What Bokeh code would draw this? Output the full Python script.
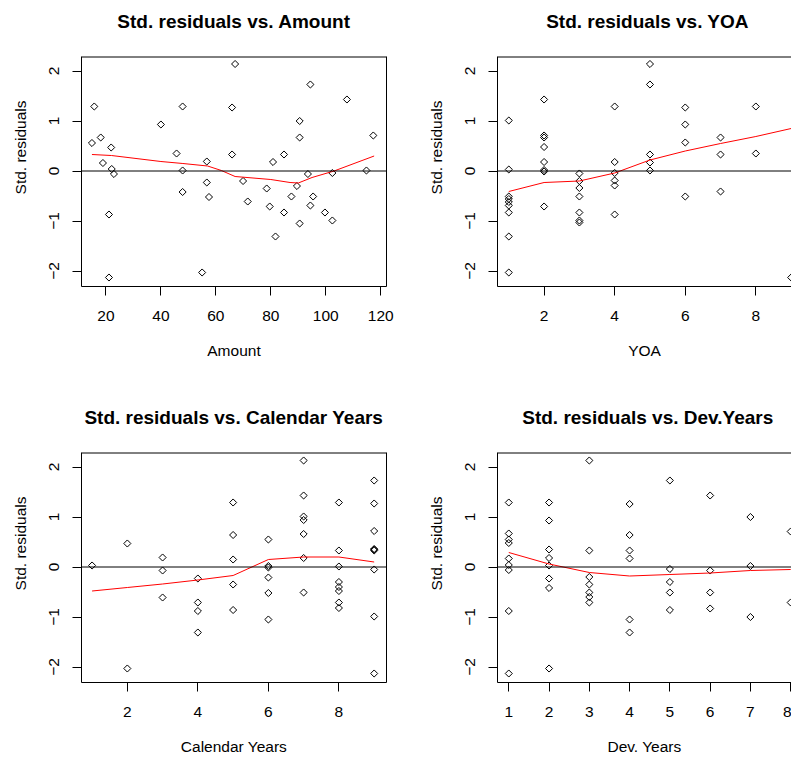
import numpy as np
from bokeh.plotting import figure
from bokeh.layouts import column, row
from bokeh.models import FixedTicker, Span, Label, LinearAxis
from bokeh.embed import file_html
from bokeh.resources import INLINE

# ---------------- data ----------------
# Panel 1: Std. residuals vs. Amount
amount = [14.9, 15.75, 18.1, 18.9, 21.9, 22.1, 22.9, 21.1, 21.1,
          40.0, 45.7, 47.9, 47.9, 47.9, 55.0, 56.7, 56.7, 57.5,
          65.9, 67.0, 65.9, 69.9, 71.6, 78.5, 79.6, 80.8, 81.7,
          84.8, 84.8, 87.5, 89.5, 90.5, 90.5, 90.5, 93.5, 94.4,
          94.4, 95.4, 99.7, 102.4, 102.4, 107.7, 114.8, 117.3]
res_amount = [0.56, 1.29, 0.67, 0.16, 0.47, 0.04, -0.06, -0.87, -2.13,
              0.93, 0.35, 1.29, 0.01, -0.42, -2.03, 0.19, -0.23, -0.52,
              1.27, 2.14, 0.33, -0.20, -0.61, -0.35, -0.71, 0.18, -1.31,
              0.33, -0.83, -0.51, -0.30, 1.00, 0.67, -1.05, -0.06, 1.73,
              -0.69, -0.51, -0.83, -0.04, -0.99, 1.43, 0.01, 0.71]
amount_fit_x = [14.9, 22, 40, 48, 57, 62, 67, 80, 87, 90, 95, 103, 117.6]
amount_fit_y = [0.33, 0.31, 0.19, 0.15, 0.10, 0.01, -0.11, -0.17, -0.23, -0.24, -0.13, 0.0, 0.30]

# Panel 2: Std. residuals vs. YOA
yoa = [1, 1, 1, 1, 1, 1, 1, 1, 1,
       2, 2, 2, 2, 2, 2, 2, 2,
       3, 3, 3, 3, 3, 3, 3,
       4, 4, 4, 4, 4, 4,
       5, 5, 5, 5, 5,
       6, 6, 6, 6,
       7, 7, 7,
       8, 8,
       9]
res_yoa = [1.01, 0.03, -0.51, -0.56, -0.62, -0.69, -0.83, -1.31, -2.03,
           1.43, 0.71, 0.67, 0.48, 0.18, 0.02, -0.01, -0.71,
           -0.05, -0.20, -0.34, -0.51, -0.83, -0.99, -1.03,
           1.29, 0.18, -0.04, -0.19, -0.29, -0.87,
           2.14, 1.73, 0.33, 0.17, 0.01,
           1.27, 0.93, 0.57, -0.51,
           0.67, 0.33, -0.41,
           1.29, 0.35,
           -2.13]
yoa_fit_x = [1, 2, 3, 4, 5, 6, 7, 8, 9]
yoa_fit_y = [-0.41, -0.23, -0.20, -0.04, 0.22, 0.40, 0.55, 0.69, 0.85]

# Panel 3: Std. residuals vs. Calendar Years
cal = [1,
       2, 2,
       3, 3, 3,
       4, 4, 4, 4,
       5, 5, 5, 5, 5,
       6, 6, 6, 6, 6, 6,
       7, 7, 7, 7, 7, 7, 7,
       8, 8, 8, 8, 8, 8, 8, 8,
       9, 9, 9, 9, 9, 9, 9, 9, 9]
res_cal = [0.03,
           0.47, -2.03,
           0.19, -0.07, -0.61,
           -0.23, -0.71, -0.88, -1.31,
           1.29, 0.64, 0.15, -0.35, -0.86,
           0.55, 0.02, -0.01, -0.21, -0.52, -1.05,
           2.13, 1.43, 1.01, 0.94, 0.66, 0.18, -0.51,
           1.29, 0.33, 0.01, -0.30, -0.40, -0.48, -0.71, -0.82,
           1.73, 1.27, 0.72, 0.36, 0.35, 0.33, -0.05, -0.99, -2.13]
cal_fit_x = [1, 2, 3, 4, 5, 6, 7, 8, 9]
cal_fit_y = [-0.48, -0.41, -0.34, -0.26, -0.17, 0.15, 0.20, 0.20, 0.10]

# Panel 4: Std. residuals vs. Dev.Years
dev = [1, 1, 1, 1, 1, 1, 1, 1, 1,
       2, 2, 2, 2, 2, 2, 2, 2,
       3, 3, 3, 3, 3, 3, 3,
       4, 4, 4, 4, 4, 4,
       5, 5, 5, 5, 5,
       6, 6, 6, 6,
       7, 7, 7,
       8, 8]
res_dev = [1.29, 0.67, 0.55, 0.48, 0.17, 0.04, -0.06, -0.88, -2.13,
           1.29, 0.93, 0.35, 0.18, 0.03, -0.23, -0.42, -2.03,
           2.13, 0.33, -0.20, -0.35, -0.51, -0.60, -0.71,
           1.26, 0.64, 0.33, 0.17, -1.05, -1.31,
           1.73, -0.04, -0.30, -0.51, -0.86,
           1.43, -0.07, -0.51, -0.83,
           1.00, 0.02, -1.00,
           0.71, -0.71]
dev_fit_x = [1, 2, 3, 4, 5, 6, 7, 8]
dev_fit_y = [0.29, 0.06, -0.11, -0.18, -0.15, -0.12, -0.07, -0.05]

y_ticks = [-2, -1, 0, 1, 2]
amount_ticks = [20, 40, 60, 80, 100, 120]
yoa_ticks = [2, 4, 6, 8]
cal_ticks = [2, 4, 6, 8]
dev_ticks = [1, 2, 3, 4, 5, 6, 7, 8]

FONT = "Liberation Sans"
TEXT_SIZE = "15.5px"
Y_BOX = (-2.31, 2.29)                 # the drawn plot box (R usr limits)
Y_VIEW = (Y_BOX[0], Y_BOX[1] + 0.96)  # view extended upward to hold the title
TITLE_Y = Y_BOX[1] + 0.70


def panel(title, xlabel, xs, ys, fx, fy, xr, xcenter, xticks, width, height,
          bl, br, bt, bb, clipped):
    p = figure(width=width, height=height, x_range=xr, y_range=Y_VIEW,
               title=None, output_backend="svg", toolbar_location=None, tools="",
               min_border_left=bl, min_border_right=br,
               min_border_top=bt, min_border_bottom=bb,
               background_fill_color="white", border_fill_color="white")
    p.xgrid.visible = False
    p.ygrid.visible = False
    p.outline_line_color = None

    p.add_layout(Label(x=xcenter, y=TITLE_Y, text=title, text_align="center",
                       text_baseline="middle", text_font=FONT,
                       text_font_size="19px", text_font_style="bold",
                       text_color="black"))

    p.xaxis.ticker = FixedTicker(ticks=xticks)
    p.yaxis.ticker = FixedTicker(ticks=y_ticks)
    p.yaxis.bounds = Y_BOX
    p.xaxis.axis_label = xlabel
    p.yaxis.axis_label = "Std. residuals"
    p.yaxis.major_label_orientation = "vertical"
    for ax in (p.xaxis[0], p.yaxis[0]):
        ax.major_tick_out = 9
        ax.major_tick_in = 0
        ax.minor_tick_out = 0
        ax.minor_tick_in = 0
        ax.axis_line_color = "black"
        ax.axis_line_width = 1
        ax.major_tick_line_color = "black"
        ax.major_label_text_font = FONT
        ax.major_label_text_font_size = TEXT_SIZE
        ax.major_label_text_color = "black"
        ax.axis_label_text_font = FONT
        ax.axis_label_text_font_size = TEXT_SIZE
        ax.axis_label_text_font_style = "normal"
        ax.axis_label_text_color = "black"
    p.xaxis.major_label_standoff = 15
    p.xaxis.axis_label_standoff = 18
    p.yaxis.major_label_standoff = 14
    p.yaxis.axis_label_standoff = 17

    # top edge of the box
    p.add_layout(Span(location=Y_BOX[1] - 0.01, dimension="width",
                      line_color="black", line_width=1))
    if not clipped:
        # right edge of the box
        rax = LinearAxis(bounds=Y_BOX, ticker=FixedTicker(ticks=[]),
                         major_tick_out=0, major_tick_in=0,
                         minor_tick_out=0, minor_tick_in=0,
                         axis_line_color="black", axis_line_width=1,
                         major_label_text_font_size="0px")
        p.add_layout(rax, "right")

    p.add_layout(Span(location=0, dimension="width", line_color="black", line_width=1))
    p.scatter(xs, ys, marker="square", size=5, angle=np.pi / 4,
              fill_color=None, line_color="black", line_width=1)
    p.line(fx, fy, line_color="red", line_width=1)
    return p


p1 = panel("Std. residuals vs. Amount", "Amount", amount, res_amount,
           amount_fit_x, amount_fit_y, (11.1, 122.1), 66.6, amount_ticks,
           424, 404, 81, 38, 8, 118, False)
p2 = panel("Std. residuals vs. YOA", "YOA", yoa, res_yoa,
           yoa_fit_x, yoa_fit_y, (0.68, 9.01), 4.93, yoa_ticks,
           367, 404, 73, 0, 8, 118, True)
p3 = panel("Std. residuals vs. Calendar Years", "Calendar Years", cal, res_cal,
           cal_fit_x, cal_fit_y, (0.70, 9.35), 5.02, cal_ticks,
           424, 354, 81, 38, 0, 76, False)
p4 = panel("Std. residuals vs. Dev.Years", "Dev. Years", dev, res_dev,
           dev_fit_x, dev_fit_y, (0.72, 8.02), 4.45, dev_ticks,
           367, 354, 73, 0, 0, 76, True)

layout = column(row(p1, p2), row(p3, p4))
open("out.html", "w").write(file_html(layout, INLINE))
